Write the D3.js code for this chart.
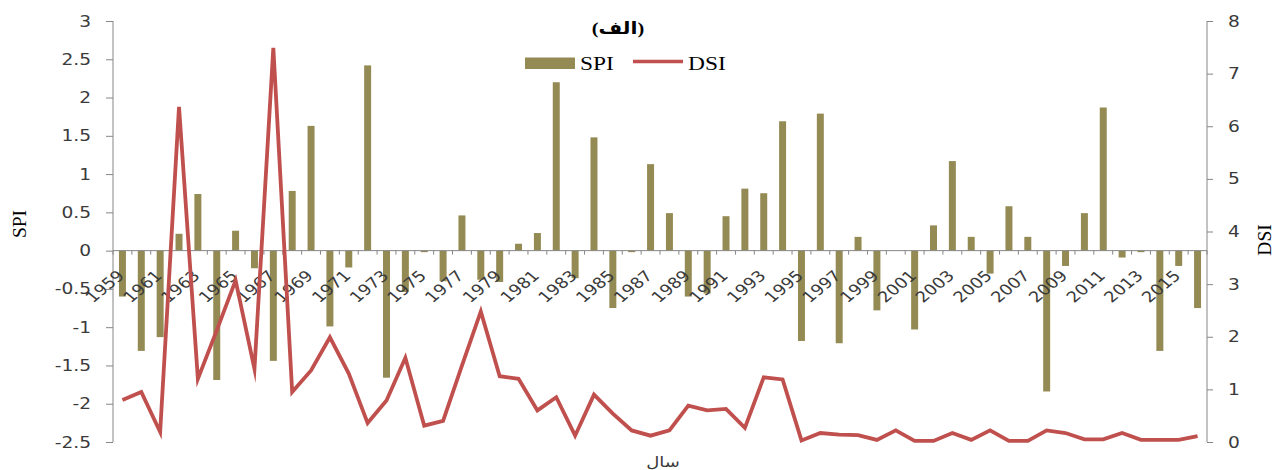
<!DOCTYPE html>
<html>
<head>
<meta charset="utf-8">
<script src="https://cdn.jsdelivr.net/npm/d3@7"></script>
<style>
  html, body { margin: 0; padding: 0; background: #ffffff; }
  svg { display: block; }
</style>
</head>
<body>
<svg id="chart" width="1274" height="470"></svg>
<script>
// Years of record
const years = d3.range(1959, 2017);

// Standardized Precipitation Index per year
const spi = [
  -0.60, -1.31, -1.13, 0.22, 0.74, -1.69, 0.26, -0.23, -1.44, 0.78,
   1.63, -0.99, -0.22, 2.42, -1.66, -0.54, -0.02, -0.40, 0.46, -0.38,
  -0.41, 0.09, 0.23, 2.20, -0.36, 1.48, -0.75, -0.02, 1.13, 0.49,
  -0.60, -0.56, 0.45, 0.81, 0.75, 1.69, -1.18, 1.79, -1.21, 0.18,
  -0.78, 0.00, -1.03, 0.33, 1.17, 0.18, -0.30, 0.58, 0.18, -1.84,
  -0.20, 0.49, 1.87, -0.09, -0.02, -1.31, -0.20, -0.75
];

// Drought Severity Index per year
const dsi = [
  0.80, 0.95, 0.19, 6.37, 1.20, 2.12, 3.07, 1.39, 7.49, 0.95,
  1.36, 1.99, 1.30, 0.36, 0.79, 1.60, 0.31, 0.40, 1.45, 2.48,
  1.25, 1.20, 0.60, 0.85, 0.12, 0.90, 0.54, 0.22, 0.12, 0.22,
  0.69, 0.60, 0.63, 0.27, 1.23, 1.19, 0.03, 0.17, 0.14, 0.13,
  0.04, 0.22, 0.02, 0.02, 0.17, 0.04, 0.22, 0.02, 0.02, 0.22,
  0.17, 0.05, 0.05, 0.17, 0.04, 0.04, 0.04, 0.11
];

// Axis tick values and their labels
const spiTicks = [3, 2.5, 2, 1.5, 1, 0.5, 0, -0.5, -1, -1.5, -2, -2.5];
const spiTickLabels = ["3", "2.5", "2", "1.5", "1", "0.5", "0", "-0.5", "-1", "-1.5", "-2", "-2.5"];
const dsiTicks = [0, 1, 2, 3, 4, 5, 6, 7, 8];
const yearLabels = years.filter((y, i) => i % 2 === 0);

const titleText = "(الف)";
const xTitle = "سال";

const barColor = "#948a54";
const lineColor = "#c0504d";
const axisColor = "#868686";
const textColor = "#3a3a3a";
const stretch = 1.2;   // horizontal widening applied to text

const svg = d3.select("#chart");

const plotLeft = 113, plotRight = 1207, plotTop = 21, plotBottom = 442;

const x = d3.scaleBand().domain(years).range([plotLeft, plotRight]).paddingInner(0.63).paddingOuter(0.315);
const step = x.step();
const cx = d => x(d) + x.bandwidth() / 2;
const yL = d3.scaleLinear().domain([-2.5, 3]).range([plotBottom, plotTop]);
const yR = d3.scaleLinear().domain([0, 8]).range([plotBottom, plotTop]);

// Bars (SPI)
svg.append("g").selectAll("rect")
  .data(years)
  .join("rect")
  .attr("x", d => x(d))
  .attr("width", x.bandwidth())
  .attr("y", (d, i) => Math.min(yL(spi[i]), yL(0)))
  .attr("height", (d, i) => Math.abs(yL(spi[i]) - yL(0)))
  .attr("fill", barColor);

// Left axis
const gL = svg.append("g").attr("transform", `translate(${plotLeft},0)`)
  .call(d3.axisLeft(yL).tickValues(spiTicks).tickSize(7).tickFormat(""));
gL.selectAll("path, line").attr("stroke", axisColor);
gL.select(".domain").attr("d", `M0,${plotTop}V${plotBottom}`);
svg.append("g").selectAll("text")
  .data(spiTicks)
  .join("text")
  .attr("transform", d => `translate(${plotLeft - 22},${yL(d) + 5.5}) scale(${stretch},1)`)
  .attr("text-anchor", "end")
  .attr("font-family", "DejaVu Sans, Verdana, sans-serif")
  .attr("font-size", 15.5)
  .attr("fill", textColor)
  .text((d, i) => spiTickLabels[i]);

// Right axis
const gR = svg.append("g").attr("transform", `translate(${plotRight},0)`)
  .call(d3.axisRight(yR).tickValues(dsiTicks).tickSize(6).tickFormat(""));
gR.selectAll("path, line").attr("stroke", axisColor);
gR.select(".domain").attr("d", `M0,${plotTop}V${plotBottom}`);
svg.append("g").selectAll("text")
  .data(dsiTicks)
  .join("text")
  .attr("transform", d => `translate(${plotRight + 21},${yR(d) + 5.5}) scale(${stretch},1)`)
  .attr("text-anchor", "start")
  .attr("font-family", "DejaVu Sans, Verdana, sans-serif")
  .attr("font-size", 15.5)
  .attr("fill", textColor)
  .text(d => d);

// Category axis along zero, ticks between categories
const gX = svg.append("g").attr("transform", `translate(0,${yL(0)})`);
gX.append("line").attr("x1", plotLeft).attr("x2", plotRight).attr("stroke", axisColor);
gX.selectAll("line.tick")
  .data(d3.range(0, years.length + 1))
  .join("line")
  .attr("class", "tick")
  .attr("x1", i => plotLeft + i * step).attr("x2", i => plotLeft + i * step)
  .attr("y1", 0).attr("y2", 4)
  .attr("stroke", axisColor);
gX.selectAll("text")
  .data(yearLabels)
  .join("text")
  .attr("transform", d => `translate(${cx(d) + 3},26) scale(${stretch},1) rotate(-45)`)
  .attr("text-anchor", "end")
  .attr("font-family", "DejaVu Sans, Verdana, sans-serif")
  .attr("font-size", 15)
  .attr("fill", textColor)
  .text(d => d);

// DSI line
const line = d3.line().x((d, i) => cx(years[i])).y(d => yR(d));
svg.append("path")
  .datum(dsi)
  .attr("d", line)
  .attr("fill", "none")
  .attr("stroke", lineColor)
  .attr("stroke-width", 3.8)
  .attr("stroke-linejoin", "miter")
  .attr("stroke-miterlimit", 10);

// Title
svg.append("text")
  .attr("transform", `translate(618,34) scale(${stretch},1)`)
  .attr("text-anchor", "middle")
  .attr("font-family", "Liberation Serif, DejaVu Sans, serif")
  .attr("font-weight", "bold")
  .attr("font-size", 17)
  .attr("fill", "#000")
  .text(titleText);

// Legend
const lg = svg.append("g");
lg.append("rect").attr("x", 525).attr("y", 57.5).attr("width", 50).attr("height", 11.5).attr("fill", barColor);
lg.append("text")
  .attr("transform", `translate(580,70) scale(${stretch},1)`)
  .attr("font-family", "Liberation Serif, Times New Roman, serif")
  .attr("font-size", 19.5).attr("fill", "#000").text("SPI");
lg.append("line").attr("x1", 633).attr("x2", 683).attr("y1", 61.5).attr("y2", 61.5)
  .attr("stroke", lineColor).attr("stroke-width", 3.5);
lg.append("text")
  .attr("transform", `translate(688,70) scale(${stretch},1)`)
  .attr("font-family", "Liberation Serif, Times New Roman, serif")
  .attr("font-size", 19.5).attr("fill", "#000").text("DSI");

// Axis titles
svg.append("text")
  .attr("transform", `translate(26,224) rotate(-90)`)
  .attr("text-anchor", "middle")
  .attr("font-family", "Liberation Serif, Times New Roman, serif")
  .attr("font-size", 19.5).attr("fill", "#000").text("SPI");
svg.append("text")
  .attr("transform", `translate(1271,240) rotate(-90)`)
  .attr("text-anchor", "middle")
  .attr("font-family", "Liberation Serif, Times New Roman, serif")
  .attr("font-size", 19.5).attr("fill", "#000").text("DSI");
svg.append("text")
  .attr("transform", `translate(663,467) scale(${stretch},1)`)
  .attr("text-anchor", "middle")
  .attr("font-family", "DejaVu Sans, sans-serif")
  .attr("font-size", 15).attr("fill", textColor).text(xTitle);
</script>
</body>
</html>
